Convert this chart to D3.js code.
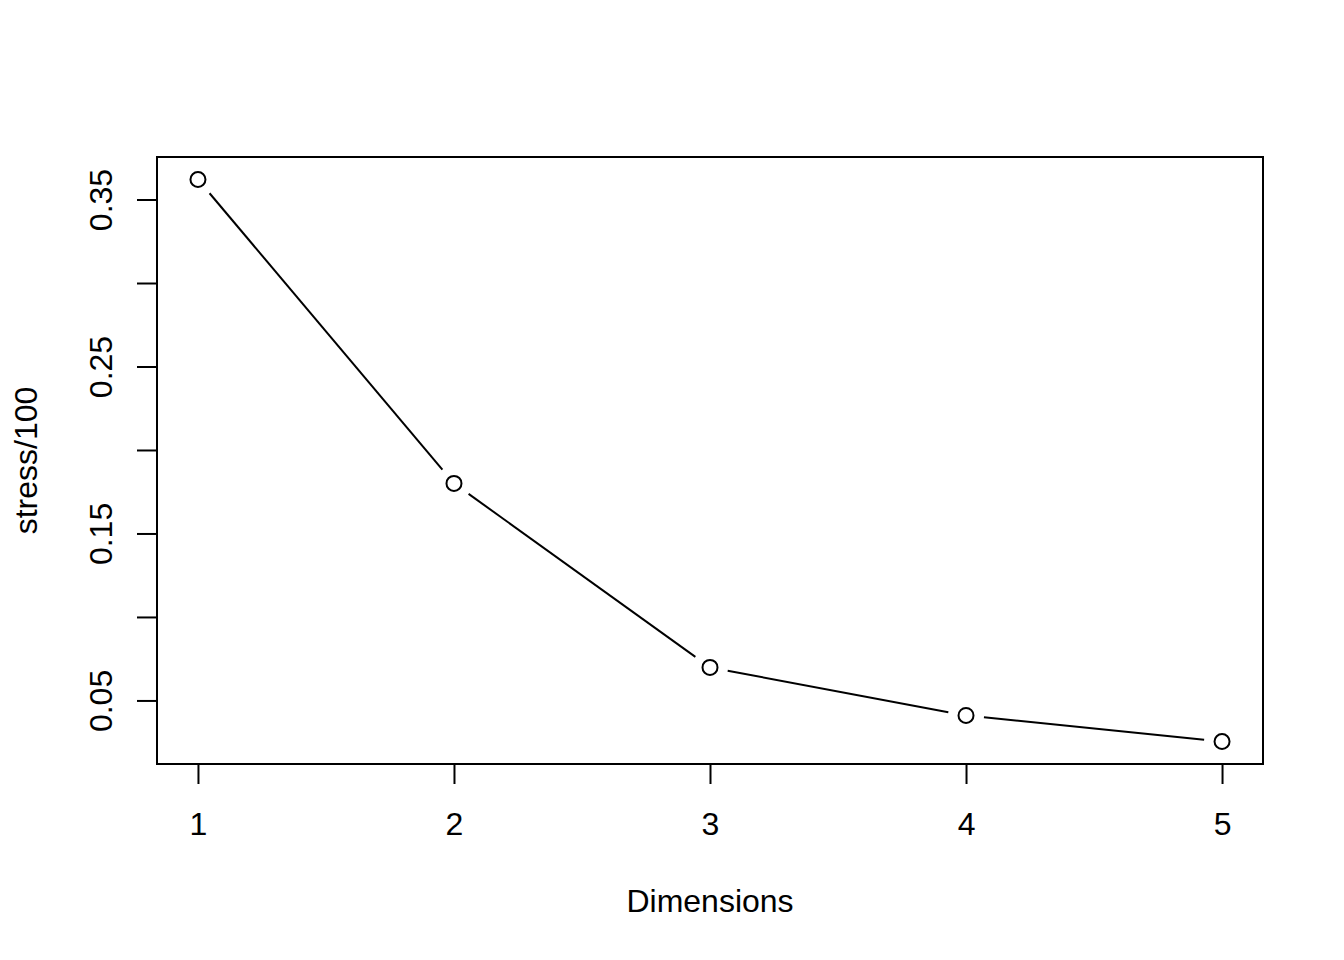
<!DOCTYPE html>
<html>
<head>
<meta charset="utf-8">
<script src="https://cdn.jsdelivr.net/npm/d3@7"></script>
<style>
  body { margin: 0; background: #fff; }
  svg { display: block; font-family: "Liberation Sans", Arial, sans-serif; }
  svg text { font-size: 32px; fill: #000; }
</style>
</head>
<body>
<svg id="svg" width="1344" height="960"></svg>
<script>
// scree plot values
var dimensions = [1, 2, 3, 4, 5];
var stress = [0.362, 0.180, 0.0698, 0.041, 0.0254];
var yTicks = [0.05, 0.10, 0.15, 0.20, 0.25, 0.30, 0.35];
var yTickLabels = ["0.05", "", "0.15", "", "0.25", "", "0.35"];
var xLabel = "Dimensions";
var yLabel = "stress/100";

const svg = d3.select('#svg');
const box = {left: 157, top: 157, right: 1263, bottom: 764};

// R pads the data range by 4% on each side
function padded(values)
{
    var lo = d3.min(values), hi = d3.max(values);
    var pad = (hi - lo) * 0.04;
    return [lo - pad, hi + pad];
}

const x = d3.scaleLinear().domain(padded(dimensions)).range([box.left, box.right]);
const y = d3.scaleLinear().domain(padded(stress)).range([box.bottom, box.top]);

// Plot frame.
svg.append("rect")
    .attr("x", box.left).attr("y", box.top)
    .attr("width", box.right - box.left).attr("height", box.bottom - box.top)
    .attr("fill", "none").attr("stroke", "#000").attr("stroke-width", 2);

// Bottom axis.
const xAxis = svg.append("g")
    .attr("transform", `translate(0,${box.bottom})`)
    .call(d3.axisBottom(x).tickValues(dimensions).tickSize(20).tickFormat(d3.format("d")));
xAxis.attr("font-size", null).attr("font-family", null);
xAxis.select(".domain").attr("d", `M${x(1)},0H${x(5)}`).attr("stroke-width", 2);
xAxis.selectAll(".tick line").attr("stroke-width", 2);
xAxis.selectAll("text").attr("y", 71).attr("dy", null);

// Left axis with rotated labels.
const yAxis = svg.append("g")
    .attr("transform", `translate(${box.left},0)`)
    .call(d3.axisLeft(y).tickValues(yTicks).tickSize(20).tickFormat((d, i) => yTickLabels[i]));
yAxis.attr("font-size", null).attr("font-family", null);
yAxis.select(".domain").attr("d", `M0,${y(0.05)}V${y(0.35)}`).attr("stroke-width", 2);
yAxis.selectAll(".tick line").attr("stroke-width", 2);
yAxis.selectAll("text")
    .attr("x", null).attr("dy", null)
    .attr("text-anchor", "middle")
    .attr("transform", "translate(-45,0) rotate(-90)");

// Line segments with gaps around the points (type = "b").
const gap = 18;
const pts = dimensions.map((d, i) => [x(d), y(stress[i])]);
const segs = d3.pairs(pts).map(([a, b]) => {
    var dx = b[0] - a[0], dy = b[1] - a[1];
    var len = Math.hypot(dx, dy);
    var ux = dx / len, uy = dy / len;
    return [a[0] + ux * gap, a[1] + uy * gap, b[0] - ux * gap, b[1] - uy * gap];
});
svg.append("g").selectAll("line")
    .data(segs)
    .join("line")
        .attr("x1", d => d[0]).attr("y1", d => d[1])
        .attr("x2", d => d[2]).attr("y2", d => d[3])
        .attr("stroke", "#000").attr("stroke-width", 2);

svg.append("g").selectAll("circle")
    .data(pts)
    .join("circle")
        .attr("cx", d => d[0]).attr("cy", d => d[1]).attr("r", 7.5)
        .attr("fill", "none").attr("stroke", "#000").attr("stroke-width", 2);

// Axis titles.
svg.append("text")
    .attr("x", (box.left + box.right) / 2).attr("y", 912)
    .attr("text-anchor", "middle")
    .text(xLabel);

svg.append("text")
    .attr("transform", `translate(37,${(box.top + box.bottom) / 2}) rotate(-90)`)
    .attr("text-anchor", "middle")
    .text(yLabel);
</script>
</body>
</html>
